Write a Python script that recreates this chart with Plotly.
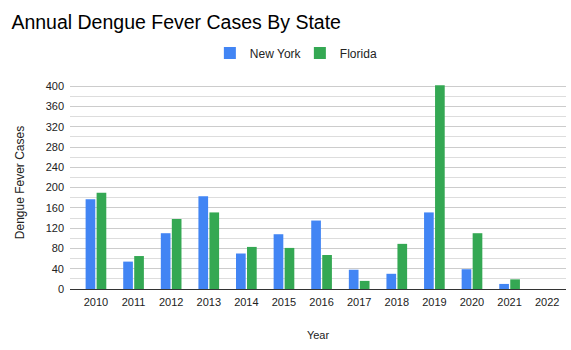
import plotly.graph_objects as go

years = ["2010", "2011", "2012", "2013", "2014", "2015", "2016",
         "2017", "2018", "2019", "2020", "2021", "2022"]
new_york = [177, 54, 110, 183, 70, 108, 135, 38, 30, 151, 39, 10, 0]
florida = [190, 65, 138, 151, 83, 81, 67, 16, 89, 402, 110, 19, 0]
y_ticks = [0, 40, 80, 120, 160, 200, 240, 280, 320, 360, 400]

font_family = "Liberation Sans, Arial, sans-serif"

fig = go.Figure()
fig.add_trace(go.Bar(x=years, y=new_york, name="New York",
                     marker=dict(color="#4285F4", line=dict(width=0))))
fig.add_trace(go.Bar(x=years, y=florida, name="Florida",
                     marker=dict(color="#34A853", line=dict(width=0))))

fig.update_layout(
    width=571, height=350,
    margin=dict(l=70, r=5, t=76, b=61),
    paper_bgcolor="white", plot_bgcolor="white",
    font=dict(family=font_family, size=11, color="#222222"),
    title=dict(text="Annual Dengue Fever Cases By State",
               x=0.02, xanchor="left", y=0.937, yanchor="middle",
               font=dict(size=19.5, color="#000000")),
    barmode="group", bargap=0.415, bargroupgap=0.12,
    showlegend=True,
    legend=dict(orientation="h", x=0.282, xanchor="left", y=1.108, yanchor="middle",
                font=dict(size=12, color="#222222"), itemwidth=30,
                entrywidth=45, entrywidthmode="pixels",
                traceorder="normal"),
    xaxis=dict(range=[-0.69, 12.5], showgrid=False, showline=True,
               linecolor="#333333", linewidth=1, ticks="",
               ticklabelstandoff=3,
               tickfont=dict(size=11, color="#222222"),
               title=dict(text="Year", font=dict(size=11, color="#222222"), standoff=24)),
    yaxis=dict(range=[0, 420], tickvals=y_ticks, showgrid=True,
               gridcolor="#cccccc", gridwidth=1, zeroline=False,
               minor=dict(dtick=20, showgrid=True, gridcolor="#dddddd", gridwidth=1),
               tickfont=dict(size=11, color="#222222"), ticks="",
               ticklabelstandoff=5,
               title=dict(text="Dengue Fever Cases", font=dict(size=12, color="#222222"),
                          standoff=18)),
)

fig.write_html("out.html")
